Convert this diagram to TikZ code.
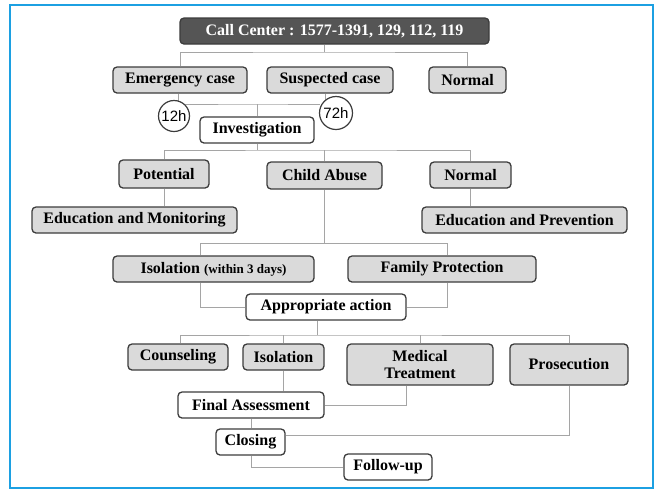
\documentclass[tikz,border=0pt]{standalone}
\usepackage{fontspec}
\setmainfont{Liberation Serif}
\newfontfamily\circfont{Liberation Sans}
\usepackage{tikz}
\usetikzlibrary{positioning,calc}
\definecolor{frameblue}{RGB}{28,160,226}
\definecolor{boxgray}{RGB}{218,218,218}
\definecolor{boxline}{RGB}{60,60,60}
\definecolor{linkgray}{RGB}{165,165,165}
\definecolor{darkbox}{RGB}{85,85,85}
\tikzset{box/.style={draw=boxline, fill=boxgray, line width=1.3pt, rounded corners=4pt,
  inner sep=0pt, minimum height=26pt, font=\bfseries\fontsize{16}{18}\selectfont},
  whitebox/.style={box, fill=white},
  link/.style={draw=linkgray, line width=1pt},
  hours/.style={circle, draw=boxline, fill=white, line width=1.2pt, inner sep=0pt,
  font=\circfont\fontsize{15}{17}\selectfont}}

\begin{document}
\begin{tikzpicture}[x=1pt, y=-1pt]
        \useasboundingbox (0,0) rectangle (661,491);
        \draw[frameblue, line width=2.6pt] (10,5) rectangle (653,488);

        \node[box, fill=darkbox, text=white, minimum width=309pt] (call) at (334.5,31) {Call Center : 1577-1391, 129, 112, 119};
        \node[box, minimum width=134pt] (emerg) at (180,80) {Emergency case};
        \node[box, minimum width=126pt] (susp) at (330,80) {Suspected case};
        \node[box, minimum width=77pt] (normA) at (467.5,80) {Normal};
        \node[whitebox, minimum width=114pt] (invest) at (257,130) {Investigation};
        \node[box, minimum width=90pt, minimum height=28pt] (potent) at (164,174) {Potential};
        \node[box, minimum width=115pt, minimum height=27pt] (abuse) at (324.5,175.5) {Child Abuse};
        \node[box, minimum width=81pt] (normB) at (470.5,175) {Normal};
        \node[box, minimum width=205pt] (edmon) at (134.5,220) {Education and Monitoring};
        \node[box, minimum width=205pt] (edprev) at (524.5,220) {Education and Prevention};
        \node[box, minimum width=201pt] (iso3) at (213.5,269) {Isolation {\fontsize{13}{15}\selectfont(within 3 days)}};
        \node[box, minimum width=188pt] (family) at (442,269) {Family Protection};
        \node[whitebox, minimum width=160pt] (approp) at (326,307) {Appropriate action};
        \node[box, minimum width=100pt] (couns) at (178,357) {Counseling};
        \node[box, minimum width=81pt] (isoB) at (283.5,357) {Isolation};
        \node[box, minimum width=146pt, minimum height=41pt, align=center] (medic) at (420,364.5) {Medical\\[-1pt]Treatment};
        \node[box, minimum width=118pt, minimum height=41pt] (prosec) at (569,364.5) {Prosecution};
        \node[whitebox, minimum width=146pt] (final) at (251,405) {Final Assessment};
        \node[whitebox, minimum width=69pt] (closing) at (250.5,442) {Closing};
        \node[whitebox, minimum width=88pt] (follow) at (388,467) {Follow-up};

        \coordinate (topbar) at (324,52);
        \coordinate (isoL) at (200,243);
        \coordinate (famR) at (447,243);
        \coordinate (actbar) at (317,335);

        \draw[link] (call.south -| topbar) -- (topbar);
        \draw[link] (emerg.north) |- (topbar) -| (normA.north);
        \draw[link] ([xshift=-2pt]emerg.south) |- (invest.north |- 0,104) -- (320,104);
        \draw[link] (invest.north) -- (invest.north |- 0,104);
        \draw[link] ([xshift=-5pt]susp.south) -- ++(0,8);
        \draw[link] (invest.south) -- (invest.south |- 0,150);
        \draw[link] (potent.north) |- (abuse.north |- 0,150) -| (normB.north);
        \draw[link] (abuse.north) -- (abuse.north |- 0,150);
        \draw[link] (potent.south) -- (potent.south |- edmon.north);
        \draw[link] (normB.south) -- (normB.south |- edprev.north);
        \draw[link] (abuse.south) -- (abuse.south |- isoL);
        \draw[link] (isoL |- iso3.north) -- (isoL) -- (famR) -- (famR |- family.north);
        \draw[link] (isoL |- iso3.south) |- (approp.west);
        \draw[link] (famR |- family.south) |- (approp.east);
        \draw[link] (actbar |- approp.south) -- (actbar);
        \draw[link] ([xshift=2pt]couns.north) |- (actbar) -| (prosec.north);
        \draw[link] (isoB.north) -- (isoB.north |- actbar);
        \draw[link] (medic.north) -- (medic.north |- actbar);
        \draw[link] (isoB.south) -- (isoB.south |- final.north);
        \draw[link] ([xshift=-14pt]medic.south) |- (final.east);
        \draw[link] (prosec.south) |- ([yshift=7pt]closing.east);
        \draw[link] (final.south) -- (final.south |- closing.north);
        \draw[link] ([xshift=1pt]closing.south) |- (follow.west);

        \node[hours, minimum size=31pt] (h12) at (174,116) {12h};
        \node[hours, minimum size=33pt] (h72) at (336,113) {72h};
    \end{tikzpicture}
\end{document}
